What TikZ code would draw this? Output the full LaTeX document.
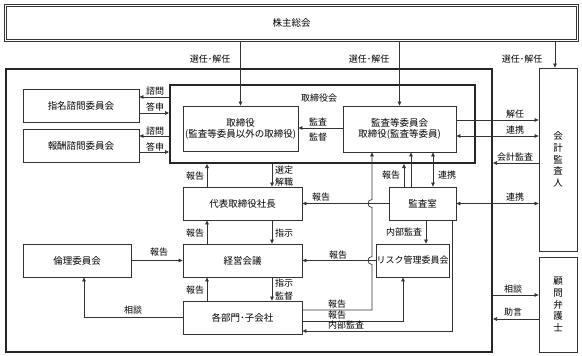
\documentclass[tikz,border=0pt]{standalone}
\usepackage{fontspec}
\setmainfont{Noto Sans CJK JP}
\usetikzlibrary{arrows.meta,calc}
\begin{document}
\begin{tikzpicture}[x=1pt,y=-1pt,
  box/.style={draw=black!80, line width=0.8pt, inner sep=0pt, font=\fontsize{9.5}{11}\selectfont, align=center},
  lbl/.style={inner sep=0pt, font=\fontsize{9}{11}\selectfont},
  con/.style={draw=black!80, line width=0.7pt},
  arr/.style={con, -{Triangle[length=4pt,width=3.6pt]}},
  darr/.style={con, {Triangle[length=4pt,width=3.6pt]}-{Triangle[length=4pt,width=3.6pt]}},
]
\useasboundingbox (0,0) rectangle (582,356);
% frames
\node[draw=black!85, line width=2pt, minimum width=486pt, minimum height=283pt, inner sep=0pt] (co) at (249,210.5) {};
\node[box, minimum width=572pt, minimum height=35pt, double=white, double distance=1.2pt, line width=0.7pt] (sh) at (291.5,23) {株主総会};
\node[draw=black!85, line width=2pt, minimum width=305pt, minimum height=78pt, inner sep=0pt] (bod) at (322.5,124) {};
\node[lbl] (bodl) at (319,98) {取締役会};
% boxes
\node[box, minimum width=115pt, minimum height=45pt] (dir) at (240.5,128.5) {取締役\\(監査等委員以外の取締役)};
\node[box, minimum width=113pt, minimum height=46pt] (ac) at (399.5,129) {監査等委員会\\取締役(監査等委員)};
\node[box, minimum width=116pt, minimum height=33pt] (nom) at (81,105.5) {指名諮問委員会};
\node[box, minimum width=116pt, minimum height=33pt] (rem) at (81,145.5) {報酬諮問委員会};
\node[box, minimum width=38pt, minimum height=183pt, font=\fontsize{9.5}{11.6}\selectfont] (auditor) at (558,159.5) {会\\計\\監\\査\\人};
\node[box, minimum width=38pt, minimum height=95pt, font=\fontsize{9.5}{11.6}\selectfont] (lawyer) at (558,304.5) {顧\\問\\弁\\護\\士};
\node[box, minimum width=67pt, minimum height=33pt] (ia) at (422.5,203.5) {監査室};
\node[box, minimum width=119pt, minimum height=33pt] (pres) at (242.5,203.5) {代表取締役社長};
\node[box, minimum width=119pt, minimum height=33pt] (mgmt) at (242.5,260.5) {経営会議};
\node[box, minimum width=119pt, minimum height=33pt] (dept) at (242.5,317.5) {各部門･子会社};
\node[box, minimum width=108pt, minimum height=33pt] (ethics) at (77,260.5) {倫理委員会};
\node[box, minimum width=73pt, minimum height=33pt, font=\fontsize{9}{11}\selectfont] (risk) at (412.5,260.5) {リスク管理委員会};
% shareholders
\coordinate (aa) at ([xshift=-3pt]auditor.north);
\draw[arr] (sh.south -| dir.north) -- (dir.north);
\draw[arr] (sh.south -| ac.north) -- (ac.north);
\draw[arr] (sh.south -| aa) -- (aa);
\node[lbl] at (210,59) {選任･解任};
\node[lbl] at (369,59) {選任･解任};
\node[lbl] at (522,59) {選任･解任};
% advisory committees
\draw[arr] (bod.west |- 0,97) -- (nom.east |- 0,97);
\draw[arr] (nom.east |- 0,113) -- (bod.west |- 0,113);
\draw[arr] (bod.west |- 0,136) -- (rem.east |- 0,136);
\draw[arr] (rem.east |- 0,152) -- (bod.west |- 0,152);
\node[lbl] at (155,91) {諮問};
\node[lbl] at (155,107.5) {答申};
\node[lbl] at (155,131) {諮問};
\node[lbl] at (155,147) {答申};
% audit committee
\draw[arr] (ac.west |- 0,128) -- (dir.east |- 0,128);
\node[lbl] at (318,121.5) {監査};
\node[lbl] at (318,137) {監督};
\draw[arr] (ac.east |- 0,120) -- (auditor.west |- 0,120);
\draw[darr] (ac.east |- 0,136) -- (auditor.west |- 0,136);
\draw[arr] (auditor.west |- 0,163) -- (co.east |- 0,163);
\node[lbl] at (515,114.5) {解任};
\node[lbl] at (515,130.5) {連携};
\node[lbl] at (515,157) {会計監査};
\draw[darr] (ia.east) -- (auditor.west |- ia.east);
\node[lbl] at (515,197.5) {連携};
% president chain
\draw[arr] (pres.north -| 207,0) -- (bod.south -| 207,0);
\draw[arr] (bod.south -| 272,0) -- (pres.north -| 272,0);
\draw[arr] (mgmt.north -| 207,0) -- (pres.south -| 207,0);
\draw[arr] (pres.south -| 272,0) -- (mgmt.north -| 272,0);
\draw[arr] (dept.north -| 207,0) -- (mgmt.south -| 207,0);
\draw[arr] (mgmt.south -| 272,0) -- (dept.north -| 272,0);
\node[lbl] at (195,176) {報告};
\node[lbl] at (284,170) {選定};
\node[lbl] at (284,182) {解職};
\node[lbl] at (195,233) {報告};
\node[lbl] at (284,233) {指示};
\node[lbl] at (195,290) {報告};
\node[lbl] at (284,283) {指示};
\node[lbl] at (284,296) {監督};
% ethics
\draw[arr] (ethics.east) -- (mgmt.west |- ethics.east);
\draw[arr] (dept.west) -| (ethics.south -| 84,0);
\node[lbl] at (159,252) {報告};
\node[lbl] at (133,310) {相談};
% internal audit office
\draw[arr] (ia.west) -- (pres.east |- ia.west);
\node[lbl] at (321,197.5) {報告};
\draw[arr] (ia.north -| 404,0) -- (bod.south -| 404,0);
\draw[arr] (ia.north -| 411,0) -- (ac.south -| 411,0);
\draw[darr] (ia.north -| 433,0) -- (ac.south -| 433,0);
\node[lbl] at (391,175) {報告};
\node[lbl] at (447,175) {連携};
\draw[arr] (ia.south -| 426,0) -- (risk.north -| 426,0);
\node[lbl] at (404,232) {内部監査};
\draw[arr] (ia.south -| 452,0) |- (dept.east |- 0,331);
% risk committee
\draw[arr] (risk.west) -- (mgmt.east |- risk.west);
\node[lbl] at (338,255.5) {報告};
\draw[arr] (dept.east |- 0,321) -| (risk.south -| 403,0);
% departments to audit committee with line jumps
\draw[arr] (dept.east |- 0,310) -- (372,310) -- (372,264.5)
  .. controls (366.7,264.5) and (366.7,256.5) .. (372,256.5) -- (372,207.5)
  .. controls (366.7,207.5) and (366.7,199.5) .. (372,199.5) -- (ac.south -| 372,0);
\node[lbl, anchor=west] at (328,304.5) {報告};
\node[lbl, anchor=west] at (328,315) {報告};
\node[lbl, anchor=west] at (328,325.5) {内部監査};
% lawyer
\draw[arr] (co.east |- 0,295) -- (lawyer.west |- 0,295);
\draw[arr] (lawyer.west |- 0,319) -- (co.east |- 0,319);
\node[lbl] at (513,289) {相談};
\node[lbl] at (513,312.5) {助言};
\end{tikzpicture}
\end{document}
